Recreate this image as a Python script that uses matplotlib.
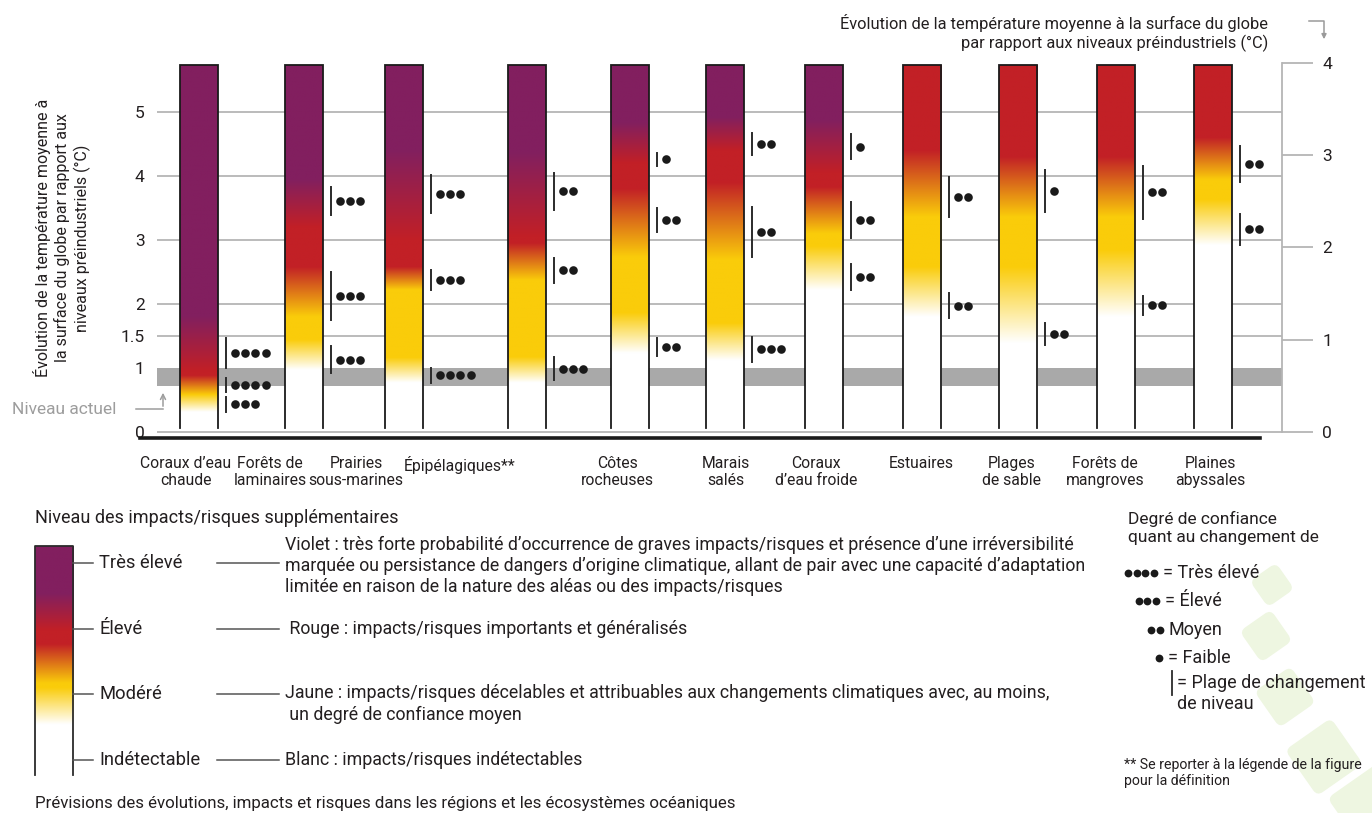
# Risques pour les écosystèmes océaniques selon le réchauffement (reproduction de la figure)

import numpy as np
import matplotlib
matplotlib.use("Agg")
import matplotlib.pyplot as plt
from matplotlib.lines import Line2D
from matplotlib.patches import FancyArrowPatch, FancyBboxPatch
import matplotlib.transforms as mtransforms

plt.rcParams['font.family'] = ['Roboto', 'DejaVu Sans']

# Données
ecosystems = ["Coraux d’eau\nchaude", "Forêts de\nlaminaires", "Prairies\nsous-marines",
              "Épipélagiques**", "Côtes\nrocheuses", "Marais\nsalés", "Coraux\nd’eau froide",
              "Estuaires", "Plages\nde sable", "Forêts de\nmangroves", "Plaines\nabyssales"]

# transitions de niveau de risque (°C) : début et fin du dégradé
white_to_yellow = [(0.31, 0.58), (0.97, 1.44), (0.77, 1.16), (0.77, 1.17), (1.23, 1.86), (1.12, 1.70),
                   (2.22, 2.90), (1.80, 2.58), (1.39, 2.58), (1.80, 2.84), (2.92, 3.63)]
yellow_to_red = [(0.58, 0.88), (1.80, 2.58), (2.22, 2.58), (2.37, 2.95), (2.73, 3.80), (2.69, 3.90),
                 (3.10, 3.83), (3.36, 4.40), (3.36, 4.30), (3.36, 4.30), (3.94, 4.60)]
red_to_purple = [(0.95, 1.80), (3.20, 3.94), (3.00, 4.40), (3.05, 4.36), (4.20, 4.83), (4.40, 4.92),
                 (4.05, 4.87), None, None, None, None]

# plages de changement de niveau : (bas, haut, nb de points de confiance)
confidence = [
    [(0.31, 0.55, 3), (0.62, 0.84, 4), (1.00, 1.47, 4)],
    [(0.92, 1.34, 3), (1.75, 2.50, 3), (3.39, 3.83, 3)],
    [(0.77, 1.00, 4), (2.22, 2.53, 3), (3.42, 4.02, 3)],
    [(0.81, 1.17, 3), (2.33, 2.72, 2), (3.47, 4.05, 2)],
    [(1.19, 1.47, 2), (3.12, 3.50, 2), (4.16, 4.36, 1)],
    [(1.10, 1.48, 3), (2.73, 3.52, 2), (4.33, 4.67, 2)],
    [(2.22, 2.63, 2), (3.03, 3.60, 2), (4.26, 4.66, 1)],
    [(1.78, 2.17, 2), (3.36, 3.98, 2)],
    [(1.36, 1.70, 2), (3.44, 4.09, 1)],
    [(1.83, 2.13, 2), (3.33, 4.16, 2)],
    [(2.92, 3.41, 2), (3.90, 4.47, 2)],
]

current_level = (0.72, 1.0)
left_ticks = [0, 1, 1.5, 2, 3, 4, 5]
right_ticks = [0, 1, 2, 3, 4]
right_top = 5.77          # valeur de l'axe gauche correspondant à 4 sur l'axe droit
bar_top = 5.73

# mise en page (positions des colonnes, décalage des étiquettes)
bar_x = [0, 1.05, 2.05, 3.28, 4.31, 5.26, 6.25, 7.23, 8.19, 9.17, 10.14]
label_dx = [-0.13, -0.34, -0.48, -0.67, -0.13, 0.01, -0.08, -0.01, -0.06, -0.11, -0.03]

WHITE = np.array([255, 255, 255]) / 255
YELLOW = np.array([250, 204, 10]) / 255
RED = np.array([194, 32, 38]) / 255
PURPLE = np.array([130, 31, 95]) / 255
TXT = '#231f20'
GRID = '#b5b5b5'

W, H = 1372, 813
fig = plt.figure(figsize=(W / 100, H / 100), dpi=100)


def P(x, y):
    return x / W, 1 - y / H


def gradient(t, stops):
    pos = [s[0] for s in stops]
    cols = np.array([s[1] for s in stops])
    return np.stack([np.interp(t, pos, cols[:, k]) for k in range(3)], axis=-1)


# --- décor vert (bas droite)
for cx, cy, size in [(1272, 585, 32), (1266, 636, 38), (1285, 697, 44), (1324, 757, 56), (1372, 806, 64)]:
    tr = mtransforms.Affine2D().rotate_deg_around(cx, H - cy, 35) + mtransforms.IdentityTransform()
    p = FancyBboxPatch((cx - size / 2, H - cy - size / 2), size, size,
                       boxstyle="round,pad=0,rounding_size=7", fc='#eef6e1', ec='none',
                       transform=tr, zorder=0)
    fig.add_artist(p)

# --- axes principal
ax = fig.add_axes([157 / W, 1 - 438.4 / H, 1125 / W, 5.9 * 64 / H])
ax.patch.set_alpha(0)
ax.set_ylim(-0.1, 5.8)
ax.set_xlim(-0.42, 10.83)
for s in ax.spines.values():
    s.set_visible(False)
ax.set_xticks([])
ax.set_yticks(left_ticks)
ax.set_yticklabels(['0', '1', '1.5', '2', '3', '4', '5'])
ax.tick_params(axis='y', length=0, pad=9, labelsize=12.5, labelcolor=TXT)

for t in left_ticks:
    if t != 1:
        ax.axhline(t, color=GRID, lw=1.3, zorder=1)
ax.axhspan(current_level[0], current_level[1], color='#a9a9a9', lw=0, zorder=1.5)

ax2 = ax.twinx()
k = 4 / right_top
ax2.set_ylim(-0.1 * k, 5.8 * k)
ax2.set_yticks(right_ticks)
ax2.tick_params(axis='y', length=22, width=1.3, color=GRID, pad=7, labelsize=12.5, labelcolor=TXT)
for name, s in ax2.spines.items():
    s.set_visible(name == 'right')
ax2.spines['right'].set_color(GRID)
ax2.spines['right'].set_linewidth(1.3)
ax2.spines['right'].set_bounds(0, 4)

hw = 0.19
tt = np.linspace(0.06, bar_top, 800)
for i, name in enumerate(ecosystems):
    c = bar_x[i]
    stops = [(-1, WHITE), (white_to_yellow[i][0], WHITE), (white_to_yellow[i][1], YELLOW),
             (yellow_to_red[i][0], YELLOW), (yellow_to_red[i][1], RED)]
    if red_to_purple[i] is not None:
        stops += [(red_to_purple[i][0], RED), (red_to_purple[i][1], PURPLE), (9, PURPLE)]
    else:
        stops += [(9, RED)]
    img = gradient(tt, stops)[:, None, :]
    ax.imshow(img, extent=(c - hw, c + hw, 0.06, bar_top), origin='lower', aspect='auto',
              interpolation='bilinear', zorder=3)
    ax.plot([c - hw, c - hw, c + hw, c + hw], [0.06, bar_top, bar_top, 0.06],
            color='#1a1a1a', lw=1.3, zorder=4, solid_joinstyle='miter')
    for lo, hi, n in confidence[i]:
        lx = c + hw + 0.08
        ax.plot([lx, lx], [lo, hi], color='#2b2b2b', lw=1.4, zorder=4)
        xs = lx + 0.09 + 0.102 * np.arange(n)
        ax.plot(xs, [(lo + hi) / 2] * n, 'o', ms=6.2, color='#1a1a1a', mec='none', zorder=4)
    ax.text(c + label_dx[i], -0.37, name, ha='center', va='top', fontsize=11.3, color=TXT,
            linespacing=1.2, clip_on=False)

ax.set_xlim(-0.42, 10.83)
ax.set_ylim(-0.1, 5.8)

# ligne noire sous les colonnes
fig.add_artist(Line2D([140 / W, 1260 / W], [P(0, 438)[1]] * 2, color='#1a1a1a', lw=2.6))

# titres des axes
fig.text(*P(1268, 33), "Évolution de la température moyenne à la surface du globe\n"
         "par rapport aux niveaux préindustriels (°C)", ha='right', va='center',
         fontsize=11.8, color=TXT, linespacing=1.25, multialignment='right')
fig.add_artist(Line2D([1309 / W, 1324 / W, 1324 / W], [P(0, 21)[1], P(0, 21)[1], P(0, 33)[1]],
                      color='#9a9a9a', lw=1.1))
fig.add_artist(FancyArrowPatch(P(1324, 32), P(1324, 42), transform=fig.transFigure,
                               arrowstyle='-|>', mutation_scale=7, color='#9a9a9a', lw=1.1))

fig.text(*P(62, 238), "Évolution de la température moyenne à\nla surface du globe par rapport aux\n"
         "niveaux préindustriels (°C)", rotation=90, ha='center', va='center', fontsize=11.5,
         color=TXT, linespacing=1.25, multialignment='center')

# niveau actuel
fig.text(*P(12, 409), "Niveau actuel", ha='left', va='center', fontsize=12.5, color='#9d9d9d')
fig.add_artist(Line2D([136 / W, 163 / W], [P(0, 409)[1]] * 2, color='#9d9d9d', lw=1.1))
fig.add_artist(FancyArrowPatch(P(163, 409), P(163, 390), transform=fig.transFigure,
                               arrowstyle='->', mutation_scale=9, color='#9d9d9d', lw=1.1))

# --- légende des niveaux
fig.text(*P(35, 518), "Niveau des impacts/risques supplémentaires", ha='left', va='center',
         fontsize=13, color=TXT)
cb_top, cb_bot = 546, 775
cax = fig.add_axes([35 / W, 1 - cb_bot / H, 38 / W, (cb_bot - cb_top) / H])
cax.axis('off')
fy = np.linspace(0, 1, 500)
cstops = [(-1, WHITE), (0.22, WHITE), (0.38, YELLOW), (0.40, YELLOW), (0.57, RED), (0.63, RED),
          (0.79, PURPLE), (2, PURPLE)]
cax.imshow(gradient(fy, cstops)[:, None, :], extent=(0, 1, 0, 1), origin='lower', aspect='auto',
           interpolation='bilinear')
cax.set_xlim(0, 1)
cax.set_ylim(0, 1)
fig.add_artist(Line2D([35 / W, 35 / W, 73 / W, 73 / W],
                      [P(0, cb_bot)[1], P(0, cb_top)[1], P(0, cb_top)[1], P(0, cb_bot)[1]],
                      color='#2b2b2b', lw=1.3))

levels = ["Très élevé", "Élevé", "Modéré", "Indétectable"]
level_y = [563, 629, 694, 760]
descriptions = [
    "Violet : très forte probabilité d’occurrence de graves impacts/risques et présence d’une irréversibilité\n"
    "marquée ou persistance de dangers d’origine climatique, allant de pair avec une capacité d’adaptation\n"
    "limitée en raison de la nature des aléas ou des impacts/risques",
    " Rouge : impacts/risques importants et généralisés",
    "Jaune : impacts/risques décelables et attribuables aux changements climatiques avec, au moins,\n"
    " un degré de confiance moyen",
    "Blanc : impacts/risques indétectables",
]
desc_dy = [3, 0, 10, 0]
for lab, y, d, dy in zip(levels, level_y, descriptions, desc_dy):
    fig.add_artist(Line2D([73 / W, 93 / W], [P(0, y)[1]] * 2, color='#555555', lw=1.1))
    fig.text(*P(99, y), lab, ha='left', va='center', fontsize=13.2, color=TXT)
    fig.add_artist(Line2D([217 / W, 279 / W], [P(0, y)[1]] * 2, color='#555555', lw=1.1))
    fig.text(*P(285, y + dy), d, ha='left', va='center', fontsize=12.8, color=TXT, linespacing=1.22)

fig.text(*P(35, 803), "Prévisions des évolutions, impacts et risques dans les régions et les "
         "écosystèmes océaniques", ha='left', va='center', fontsize=12.2, color=TXT)

# --- légende de confiance
fig.text(*P(1128, 528), "Degré de confiance\nquant au changement de", ha='left', va='center',
         fontsize=12.5, color=TXT, linespacing=1.2)
conf_labels = ["= Très élevé", "= Élevé", "Moyen", "= Faible"]
conf_y = [573, 601, 630, 658]
conf_end = [1154, 1156, 1160, 1159]
for n, (lab, y, xe) in enumerate(zip(conf_labels, conf_y, conf_end)):
    nd = 4 - n
    xs = xe - 8.6 * np.arange(nd)[::-1]
    fig.add_artist(Line2D(xs / W, [P(0, y)[1]] * nd, ls='none', marker='o', ms=5.6,
                          color='#1a1a1a', mec='none'))
    fig.text(*P(xe + 9, y), lab, ha='left', va='center', fontsize=13, color=TXT)
fig.add_artist(Line2D([1172 / W] * 2, [P(0, 671)[1], P(0, 695)[1]], color='#2b2b2b', lw=1.3))
fig.text(*P(1177, 683), "= Plage de changement", ha='left', va='center', fontsize=13, color=TXT)
fig.text(*P(1177, 704), "de niveau", ha='left', va='center', fontsize=13, color=TXT)
fig.text(*P(1124, 773), "** Se reporter à la légende de la figure\npour la définition",
         ha='left', va='center', fontsize=10.2, color=TXT, linespacing=1.2)

fig.savefig("out.png", dpi=100)
